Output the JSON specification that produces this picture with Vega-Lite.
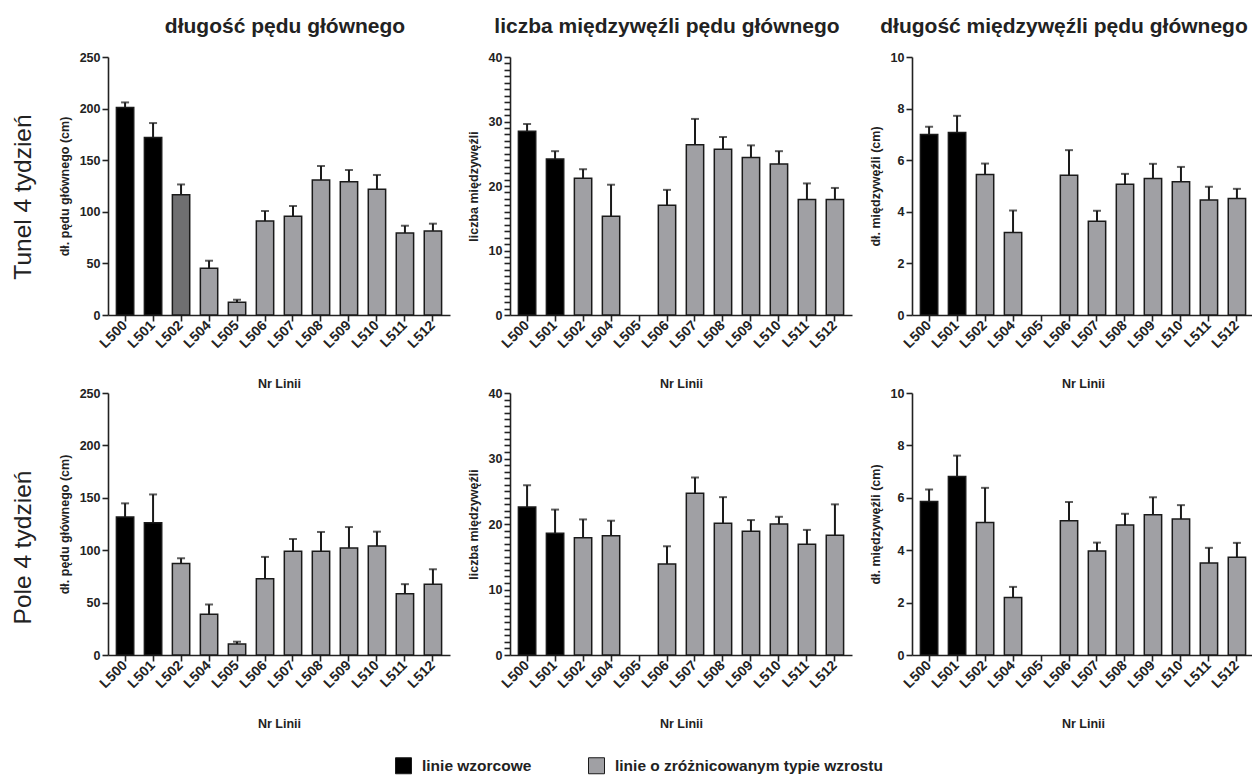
{
  "$schema": "https://vega.github.io/schema/vega-lite/v6.json",
  "padding": {"left": 11, "top": 16, "right": 0, "bottom": 0},
  "datasets": {
    "d": [
      {"env": "Tunel", "trait": "dl", "linia": "L500", "grupa": "linie wzorcowe", "srednia": 201, "gorny": 206},
      {"env": "Tunel", "trait": "dl", "linia": "L501", "grupa": "linie wzorcowe", "srednia": 172, "gorny": 186},
      {"env": "Tunel", "trait": "dl", "linia": "L502", "grupa": "linie o zróżnicowanym typie wzrostu", "srednia": 116.5, "gorny": 126.5},
      {"env": "Tunel", "trait": "dl", "linia": "L504", "grupa": "linie o zróżnicowanym typie wzrostu", "srednia": 45.2, "gorny": 52.6},
      {"env": "Tunel", "trait": "dl", "linia": "L505", "grupa": "linie o zróżnicowanym typie wzrostu", "srednia": 12.3, "gorny": 14.8},
      {"env": "Tunel", "trait": "dl", "linia": "L506", "grupa": "linie o zróżnicowanym typie wzrostu", "srednia": 91, "gorny": 100.8},
      {"env": "Tunel", "trait": "dl", "linia": "L507", "grupa": "linie o zróżnicowanym typie wzrostu", "srednia": 95.6, "gorny": 105.6},
      {"env": "Tunel", "trait": "dl", "linia": "L508", "grupa": "linie o zróżnicowanym typie wzrostu", "srednia": 130.8, "gorny": 144.4},
      {"env": "Tunel", "trait": "dl", "linia": "L509", "grupa": "linie o zróżnicowanym typie wzrostu", "srednia": 129.2, "gorny": 140.5},
      {"env": "Tunel", "trait": "dl", "linia": "L510", "grupa": "linie o zróżnicowanym typie wzrostu", "srednia": 121.8, "gorny": 135.7},
      {"env": "Tunel", "trait": "dl", "linia": "L511", "grupa": "linie o zróżnicowanym typie wzrostu", "srednia": 79.5, "gorny": 86.5},
      {"env": "Tunel", "trait": "dl", "linia": "L512", "grupa": "linie o zróżnicowanym typie wzrostu", "srednia": 81.5, "gorny": 88.5},

      {"env": "Tunel", "trait": "lm", "linia": "L500", "grupa": "linie wzorcowe", "srednia": 28.5, "gorny": 29.6},
      {"env": "Tunel", "trait": "lm", "linia": "L501", "grupa": "linie wzorcowe", "srednia": 24.2, "gorny": 25.4},
      {"env": "Tunel", "trait": "lm", "linia": "L502", "grupa": "linie o zróżnicowanym typie wzrostu", "srednia": 21.2, "gorny": 22.6},
      {"env": "Tunel", "trait": "lm", "linia": "L504", "grupa": "linie o zróżnicowanym typie wzrostu", "srednia": 15.3, "gorny": 20.2},
      {"env": "Tunel", "trait": "lm", "linia": "L506", "grupa": "linie o zróżnicowanym typie wzrostu", "srednia": 17.0, "gorny": 19.4},
      {"env": "Tunel", "trait": "lm", "linia": "L507", "grupa": "linie o zróżnicowanym typie wzrostu", "srednia": 26.4, "gorny": 30.4},
      {"env": "Tunel", "trait": "lm", "linia": "L508", "grupa": "linie o zróżnicowanym typie wzrostu", "srednia": 25.7, "gorny": 27.6},
      {"env": "Tunel", "trait": "lm", "linia": "L509", "grupa": "linie o zróżnicowanym typie wzrostu", "srednia": 24.4, "gorny": 26.3},
      {"env": "Tunel", "trait": "lm", "linia": "L510", "grupa": "linie o zróżnicowanym typie wzrostu", "srednia": 23.4, "gorny": 25.4},
      {"env": "Tunel", "trait": "lm", "linia": "L511", "grupa": "linie o zróżnicowanym typie wzrostu", "srednia": 17.9, "gorny": 20.4},
      {"env": "Tunel", "trait": "lm", "linia": "L512", "grupa": "linie o zróżnicowanym typie wzrostu", "srednia": 17.9, "gorny": 19.7},

      {"env": "Tunel", "trait": "dm", "linia": "L500", "grupa": "linie wzorcowe", "srednia": 7.0, "gorny": 7.3},
      {"env": "Tunel", "trait": "dm", "linia": "L501", "grupa": "linie wzorcowe", "srednia": 7.07, "gorny": 7.72},
      {"env": "Tunel", "trait": "dm", "linia": "L502", "grupa": "linie o zróżnicowanym typie wzrostu", "srednia": 5.45, "gorny": 5.87},
      {"env": "Tunel", "trait": "dm", "linia": "L504", "grupa": "linie o zróżnicowanym typie wzrostu", "srednia": 3.2, "gorny": 4.05},
      {"env": "Tunel", "trait": "dm", "linia": "L506", "grupa": "linie o zróżnicowanym typie wzrostu", "srednia": 5.42, "gorny": 6.39},
      {"env": "Tunel", "trait": "dm", "linia": "L507", "grupa": "linie o zróżnicowanym typie wzrostu", "srednia": 3.63, "gorny": 4.04},
      {"env": "Tunel", "trait": "dm", "linia": "L508", "grupa": "linie o zróżnicowanym typie wzrostu", "srednia": 5.07, "gorny": 5.47},
      {"env": "Tunel", "trait": "dm", "linia": "L509", "grupa": "linie o zróżnicowanym typie wzrostu", "srednia": 5.29, "gorny": 5.86},
      {"env": "Tunel", "trait": "dm", "linia": "L510", "grupa": "linie o zróżnicowanym typie wzrostu", "srednia": 5.16, "gorny": 5.74},
      {"env": "Tunel", "trait": "dm", "linia": "L511", "grupa": "linie o zróżnicowanym typie wzrostu", "srednia": 4.46, "gorny": 4.97},
      {"env": "Tunel", "trait": "dm", "linia": "L512", "grupa": "linie o zróżnicowanym typie wzrostu", "srednia": 4.52, "gorny": 4.89},

      {"env": "Pole", "trait": "dl", "linia": "L500", "grupa": "linie wzorcowe", "srednia": 131.7, "gorny": 144.7},
      {"env": "Pole", "trait": "dl", "linia": "L501", "grupa": "linie wzorcowe", "srednia": 126.3, "gorny": 153.2},
      {"env": "Pole", "trait": "dl", "linia": "L502", "grupa": "linie o zróżnicowanym typie wzrostu", "srednia": 87.2, "gorny": 92.3},
      {"env": "Pole", "trait": "dl", "linia": "L504", "grupa": "linie o zróżnicowanym typie wzrostu", "srednia": 39.0, "gorny": 48.2},
      {"env": "Pole", "trait": "dl", "linia": "L505", "grupa": "linie o zróżnicowanym typie wzrostu", "srednia": 10.5, "gorny": 12.7},
      {"env": "Pole", "trait": "dl", "linia": "L506", "grupa": "linie o zróżnicowanym typie wzrostu", "srednia": 72.7, "gorny": 93.6},
      {"env": "Pole", "trait": "dl", "linia": "L507", "grupa": "linie o zróżnicowanym typie wzrostu", "srednia": 99.0, "gorny": 110.7},
      {"env": "Pole", "trait": "dl", "linia": "L508", "grupa": "linie o zróżnicowanym typie wzrostu", "srednia": 99.0, "gorny": 117.4},
      {"env": "Pole", "trait": "dl", "linia": "L509", "grupa": "linie o zróżnicowanym typie wzrostu", "srednia": 102.2, "gorny": 122.1},
      {"env": "Pole", "trait": "dl", "linia": "L510", "grupa": "linie o zróżnicowanym typie wzrostu", "srednia": 104.0, "gorny": 117.7},
      {"env": "Pole", "trait": "dl", "linia": "L511", "grupa": "linie o zróżnicowanym typie wzrostu", "srednia": 58.4, "gorny": 67.6},
      {"env": "Pole", "trait": "dl", "linia": "L512", "grupa": "linie o zróżnicowanym typie wzrostu", "srednia": 67.6, "gorny": 81.8},

      {"env": "Pole", "trait": "lm", "linia": "L500", "grupa": "linie wzorcowe", "srednia": 22.6, "gorny": 25.9},
      {"env": "Pole", "trait": "lm", "linia": "L501", "grupa": "linie wzorcowe", "srednia": 18.6, "gorny": 22.2},
      {"env": "Pole", "trait": "lm", "linia": "L502", "grupa": "linie o zróżnicowanym typie wzrostu", "srednia": 17.9, "gorny": 20.7},
      {"env": "Pole", "trait": "lm", "linia": "L504", "grupa": "linie o zróżnicowanym typie wzrostu", "srednia": 18.2, "gorny": 20.5},
      {"env": "Pole", "trait": "lm", "linia": "L506", "grupa": "linie o zróżnicowanym typie wzrostu", "srednia": 13.9, "gorny": 16.6},
      {"env": "Pole", "trait": "lm", "linia": "L507", "grupa": "linie o zróżnicowanym typie wzrostu", "srednia": 24.7, "gorny": 27.1},
      {"env": "Pole", "trait": "lm", "linia": "L508", "grupa": "linie o zróżnicowanym typie wzrostu", "srednia": 20.1, "gorny": 24.1},
      {"env": "Pole", "trait": "lm", "linia": "L509", "grupa": "linie o zróżnicowanym typie wzrostu", "srednia": 18.9, "gorny": 20.6},
      {"env": "Pole", "trait": "lm", "linia": "L510", "grupa": "linie o zróżnicowanym typie wzrostu", "srednia": 20.0, "gorny": 21.1},
      {"env": "Pole", "trait": "lm", "linia": "L511", "grupa": "linie o zróżnicowanym typie wzrostu", "srednia": 16.9, "gorny": 19.1},
      {"env": "Pole", "trait": "lm", "linia": "L512", "grupa": "linie o zróżnicowanym typie wzrostu", "srednia": 18.3, "gorny": 23.0},

      {"env": "Pole", "trait": "dm", "linia": "L500", "grupa": "linie wzorcowe", "srednia": 5.86, "gorny": 6.32},
      {"env": "Pole", "trait": "dm", "linia": "L501", "grupa": "linie wzorcowe", "srednia": 6.81, "gorny": 7.61},
      {"env": "Pole", "trait": "dm", "linia": "L502", "grupa": "linie o zróżnicowanym typie wzrostu", "srednia": 5.06, "gorny": 6.38},
      {"env": "Pole", "trait": "dm", "linia": "L504", "grupa": "linie o zróżnicowanym typie wzrostu", "srednia": 2.19, "gorny": 2.6},
      {"env": "Pole", "trait": "dm", "linia": "L506", "grupa": "linie o zróżnicowanym typie wzrostu", "srednia": 5.12, "gorny": 5.84},
      {"env": "Pole", "trait": "dm", "linia": "L507", "grupa": "linie o zróżnicowanym typie wzrostu", "srednia": 3.97, "gorny": 4.29},
      {"env": "Pole", "trait": "dm", "linia": "L508", "grupa": "linie o zróżnicowanym typie wzrostu", "srednia": 4.96, "gorny": 5.39},
      {"env": "Pole", "trait": "dm", "linia": "L509", "grupa": "linie o zróżnicowanym typie wzrostu", "srednia": 5.35, "gorny": 6.02},
      {"env": "Pole", "trait": "dm", "linia": "L510", "grupa": "linie o zróżnicowanym typie wzrostu", "srednia": 5.19, "gorny": 5.72},
      {"env": "Pole", "trait": "dm", "linia": "L511", "grupa": "linie o zróżnicowanym typie wzrostu", "srednia": 3.51, "gorny": 4.09},
      {"env": "Pole", "trait": "dm", "linia": "L512", "grupa": "linie o zróżnicowanym typie wzrostu", "srednia": 3.73, "gorny": 4.28}
    ]
  },
  "data": {"name": "d"},
  "vconcat": [
    {
      "title": {"text": "Tunel 4 tydzień", "orient": "left", "fontSize": 24.5, "fontWeight": "normal", "anchor": "middle", "offset": 21.5, "dx": 6},
      "bounds": "flush",
      "spacing": 60,
      "hconcat": [
        {
          "width": 342, "height": 258,
          "title": {"text": "długość pędu głównego", "offset": 14, "dx": 6},
          "transform": [{"filter": "datum.env === 'Tunel' && datum.trait === 'dl'"}],
          "encoding": {"x": {"field": "linia", "type": "nominal", "title": "Nr Linii", "scale": {"domain": ["L500","L501","L502","L504","L505","L506","L507","L508","L509","L510","L511","L512"], "paddingInner": 0.38, "paddingOuter": 0.3}, "axis": {"labelAngle": -45, "labelAlign": "right", "labelBaseline": "middle", "labelFontSize": 14, "titlePadding": 27}}},
          "layer": [
            {"mark": {"type": "bar", "stroke": "#1a1a1a", "strokeWidth": 1.5},
             "encoding": {
               "y": {"field": "srednia", "type": "quantitative", "title": "dł. pędu głównego (cm)", "scale": {"domain": [0, 250], "nice": false}, "axis": {"values": [0, 50, 100, 150, 200, 250]}},
               "color": {"condition": {"test": "datum.linia === 'L502'", "value": "#6f6f71"}, "field": "grupa", "type": "nominal", "scale": {"domain": ["linie wzorcowe", "linie o zróżnicowanym typie wzrostu"], "range": ["#000000", "#a0a0a4"]},
                 "legend": {"orient": "none", "legendX": 287, "legendY": 700, "direction": "horizontal", "title": null, "symbolType": "square", "symbolSize": 256, "symbolStrokeColor": "#333333", "symbolStrokeWidth": 1, "symbolOpacity": 1, "labelFontSize": 15.5, "labelFontWeight": "bold", "labelColor": "#222222", "labelLimit": 500, "columnPadding": 54, "labelOffset": 10}}
             }},
            {"mark": {"type": "rule", "color": "#1a1a1a", "strokeWidth": 2},
             "encoding": {"y": {"field": "srednia", "type": "quantitative", "title": "dł. pędu głównego (cm)"}, "y2": {"field": "gorny"}}},
            {"mark": {"type": "tick", "color": "#1a1a1a", "size": 8, "thickness": 2},
             "encoding": {"y": {"field": "gorny", "type": "quantitative", "title": "dł. pędu głównego (cm)"}}}
          ]
        },
        {
          "width": 342, "height": 258,
          "title": {"text": "liczba międzywęźli pędu głównego", "offset": 14, "dx": -14},
          "transform": [{"filter": "datum.env === 'Tunel' && datum.trait === 'lm'"}],
          "encoding": {"x": {"field": "linia", "type": "nominal", "title": "Nr Linii", "scale": {"domain": ["L500","L501","L502","L504","L505","L506","L507","L508","L509","L510","L511","L512"], "paddingInner": 0.38, "paddingOuter": 0.3}, "axis": {"labelAngle": -45, "labelAlign": "right", "labelBaseline": "middle", "labelFontSize": 14, "titlePadding": 27}}},
          "layer": [
            {"mark": {"type": "bar", "stroke": "#1a1a1a", "strokeWidth": 1.5},
             "encoding": {
               "y": {"field": "srednia", "type": "quantitative", "title": "liczba międzywęźli", "scale": {"domain": [0, 40], "nice": false},
                 "axis": {"values": [0,1,2,3,4,5,6,7,8,9,10,11,12,13,14,15,16,17,18,19,20,21,22,23,24,25,26,27,28,29,30,31,32,33,34,35,36,37,38,39,40], "labelOverlap": false, "labelExpr": "datum.value % 10 == 0 ? datum.label : ''", "encode": {"ticks": {"update": {"x2": {"signal": "datum.value % 10 == 0 ? -6 : -3"}}}}}},
               "color": {"field": "grupa", "type": "nominal"}
             }},
            {"mark": {"type": "rule", "color": "#1a1a1a", "strokeWidth": 2},
             "encoding": {"y": {"field": "srednia", "type": "quantitative", "title": "liczba międzywęźli",
                 "axis": {"values": [0,1,2,3,4,5,6,7,8,9,10,11,12,13,14,15,16,17,18,19,20,21,22,23,24,25,26,27,28,29,30,31,32,33,34,35,36,37,38,39,40], "labelOverlap": false, "labelExpr": "datum.value % 10 == 0 ? datum.label : ''", "encode": {"ticks": {"update": {"x2": {"signal": "datum.value % 10 == 0 ? -6 : -3"}}}}}}, "y2": {"field": "gorny"}}},
            {"mark": {"type": "tick", "color": "#1a1a1a", "size": 8, "thickness": 2},
             "encoding": {"y": {"field": "gorny", "type": "quantitative", "title": "liczba międzywęźli",
                 "axis": {"values": [0,1,2,3,4,5,6,7,8,9,10,11,12,13,14,15,16,17,18,19,20,21,22,23,24,25,26,27,28,29,30,31,32,33,34,35,36,37,38,39,40], "labelOverlap": false, "labelExpr": "datum.value % 10 == 0 ? datum.label : ''", "encode": {"ticks": {"update": {"x2": {"signal": "datum.value % 10 == 0 ? -6 : -3"}}}}}}}}
          ]
        },
        {
          "width": 342, "height": 258,
          "title": {"text": "długość międzywęźli pędu głównego", "offset": 14, "dx": -19},
          "transform": [{"filter": "datum.env === 'Tunel' && datum.trait === 'dm'"}],
          "encoding": {"x": {"field": "linia", "type": "nominal", "title": "Nr Linii", "scale": {"domain": ["L500","L501","L502","L504","L505","L506","L507","L508","L509","L510","L511","L512"], "paddingInner": 0.38, "paddingOuter": 0.3}, "axis": {"labelAngle": -45, "labelAlign": "right", "labelBaseline": "middle", "labelFontSize": 14, "titlePadding": 27}}},
          "layer": [
            {"mark": {"type": "bar", "stroke": "#1a1a1a", "strokeWidth": 1.5},
             "encoding": {
               "y": {"field": "srednia", "type": "quantitative", "title": "dł. międzywęźli  (cm)", "scale": {"domain": [0, 10], "nice": false}, "axis": {"values": [0, 2, 4, 6, 8, 10]}},
               "color": {"field": "grupa", "type": "nominal"}
             }},
            {"mark": {"type": "rule", "color": "#1a1a1a", "strokeWidth": 2},
             "encoding": {"y": {"field": "srednia", "type": "quantitative", "title": "dł. międzywęźli  (cm)"}, "y2": {"field": "gorny"}}},
            {"mark": {"type": "tick", "color": "#1a1a1a", "size": 8, "thickness": 2},
             "encoding": {"y": {"field": "gorny", "type": "quantitative", "title": "dł. międzywęźli  (cm)"}}}
          ]
        }
      ]
    },
    {
      "title": {"text": "Pole 4 tydzień", "orient": "left", "fontSize": 24.5, "fontWeight": "normal", "anchor": "middle", "offset": 21.5, "dx": 11},
      "bounds": "flush",
      "spacing": 60,
      "hconcat": [
        {
          "width": 342, "height": 262,
          "transform": [{"filter": "datum.env === 'Pole' && datum.trait === 'dl'"}],
          "encoding": {"x": {"field": "linia", "type": "nominal", "title": "Nr Linii", "scale": {"domain": ["L500","L501","L502","L504","L505","L506","L507","L508","L509","L510","L511","L512"], "paddingInner": 0.38, "paddingOuter": 0.3}, "axis": {"labelAngle": -45, "labelAlign": "right", "labelBaseline": "middle", "labelFontSize": 14, "titlePadding": 27}}},
          "layer": [
            {"mark": {"type": "bar", "stroke": "#1a1a1a", "strokeWidth": 1.5},
             "encoding": {
               "y": {"field": "srednia", "type": "quantitative", "title": "dł. pędu głównego (cm)", "scale": {"domain": [0, 250], "nice": false}, "axis": {"values": [0, 50, 100, 150, 200, 250]}},
               "color": {"field": "grupa", "type": "nominal"}
             }},
            {"mark": {"type": "rule", "color": "#1a1a1a", "strokeWidth": 2},
             "encoding": {"y": {"field": "srednia", "type": "quantitative", "title": "dł. pędu głównego (cm)"}, "y2": {"field": "gorny"}}},
            {"mark": {"type": "tick", "color": "#1a1a1a", "size": 8, "thickness": 2},
             "encoding": {"y": {"field": "gorny", "type": "quantitative", "title": "dł. pędu głównego (cm)"}}}
          ]
        },
        {
          "width": 342, "height": 262,
          "transform": [{"filter": "datum.env === 'Pole' && datum.trait === 'lm'"}],
          "encoding": {"x": {"field": "linia", "type": "nominal", "title": "Nr Linii", "scale": {"domain": ["L500","L501","L502","L504","L505","L506","L507","L508","L509","L510","L511","L512"], "paddingInner": 0.38, "paddingOuter": 0.3}, "axis": {"labelAngle": -45, "labelAlign": "right", "labelBaseline": "middle", "labelFontSize": 14, "titlePadding": 27}}},
          "layer": [
            {"mark": {"type": "bar", "stroke": "#1a1a1a", "strokeWidth": 1.5},
             "encoding": {
               "y": {"field": "srednia", "type": "quantitative", "title": "liczba międzywęźli", "scale": {"domain": [0, 40], "nice": false},
                 "axis": {"values": [0,1,2,3,4,5,6,7,8,9,10,11,12,13,14,15,16,17,18,19,20,21,22,23,24,25,26,27,28,29,30,31,32,33,34,35,36,37,38,39,40], "labelOverlap": false, "labelExpr": "datum.value % 10 == 0 ? datum.label : ''", "encode": {"ticks": {"update": {"x2": {"signal": "datum.value % 10 == 0 ? -6 : -3"}}}}}},
               "color": {"field": "grupa", "type": "nominal"}
             }},
            {"mark": {"type": "rule", "color": "#1a1a1a", "strokeWidth": 2},
             "encoding": {"y": {"field": "srednia", "type": "quantitative", "title": "liczba międzywęźli",
                 "axis": {"values": [0,1,2,3,4,5,6,7,8,9,10,11,12,13,14,15,16,17,18,19,20,21,22,23,24,25,26,27,28,29,30,31,32,33,34,35,36,37,38,39,40], "labelOverlap": false, "labelExpr": "datum.value % 10 == 0 ? datum.label : ''", "encode": {"ticks": {"update": {"x2": {"signal": "datum.value % 10 == 0 ? -6 : -3"}}}}}}, "y2": {"field": "gorny"}}},
            {"mark": {"type": "tick", "color": "#1a1a1a", "size": 8, "thickness": 2},
             "encoding": {"y": {"field": "gorny", "type": "quantitative", "title": "liczba międzywęźli",
                 "axis": {"values": [0,1,2,3,4,5,6,7,8,9,10,11,12,13,14,15,16,17,18,19,20,21,22,23,24,25,26,27,28,29,30,31,32,33,34,35,36,37,38,39,40], "labelOverlap": false, "labelExpr": "datum.value % 10 == 0 ? datum.label : ''", "encode": {"ticks": {"update": {"x2": {"signal": "datum.value % 10 == 0 ? -6 : -3"}}}}}}}}
          ]
        },
        {
          "width": 342, "height": 262,
          "transform": [{"filter": "datum.env === 'Pole' && datum.trait === 'dm'"}],
          "encoding": {"x": {"field": "linia", "type": "nominal", "title": "Nr Linii", "scale": {"domain": ["L500","L501","L502","L504","L505","L506","L507","L508","L509","L510","L511","L512"], "paddingInner": 0.38, "paddingOuter": 0.3}, "axis": {"labelAngle": -45, "labelAlign": "right", "labelBaseline": "middle", "labelFontSize": 14, "titlePadding": 27}}},
          "layer": [
            {"mark": {"type": "bar", "stroke": "#1a1a1a", "strokeWidth": 1.5},
             "encoding": {
               "y": {"field": "srednia", "type": "quantitative", "title": "dł. międzywęźli  (cm)", "scale": {"domain": [0, 10], "nice": false}, "axis": {"values": [0, 2, 4, 6, 8, 10]}},
               "color": {"field": "grupa", "type": "nominal"}
             }},
            {"mark": {"type": "rule", "color": "#1a1a1a", "strokeWidth": 2},
             "encoding": {"y": {"field": "srednia", "type": "quantitative", "title": "dł. międzywęźli  (cm)"}, "y2": {"field": "gorny"}}},
            {"mark": {"type": "tick", "color": "#1a1a1a", "size": 8, "thickness": 2},
             "encoding": {"y": {"field": "gorny", "type": "quantitative", "title": "dł. międzywęźli  (cm)"}}}
          ]
        }
      ]
    }
  ],
  "spacing": -4,
  "resolve": {"scale": {"color": "shared"}, "legend": {"color": "shared"}},
  "config": {
    "font": "Liberation Sans",
    "background": "#ffffff",
    "view": {"stroke": null},
    "title": {"fontSize": 21, "fontWeight": "bold", "color": "#222222", "font": "Liberation Sans"},
    "axis": {"grid": false, "domainColor": "#222222", "domainWidth": 1.6, "tickColor": "#222222", "tickWidth": 1.6, "tickSize": 6, "labelFontSize": 12.5, "labelFontWeight": "bold", "labelColor": "#222222", "titleFontSize": 12.5, "titleFontWeight": "bold", "titleColor": "#222222", "labelPadding": 2},
    "axisY": {"titlePadding": 8}
  }
}
